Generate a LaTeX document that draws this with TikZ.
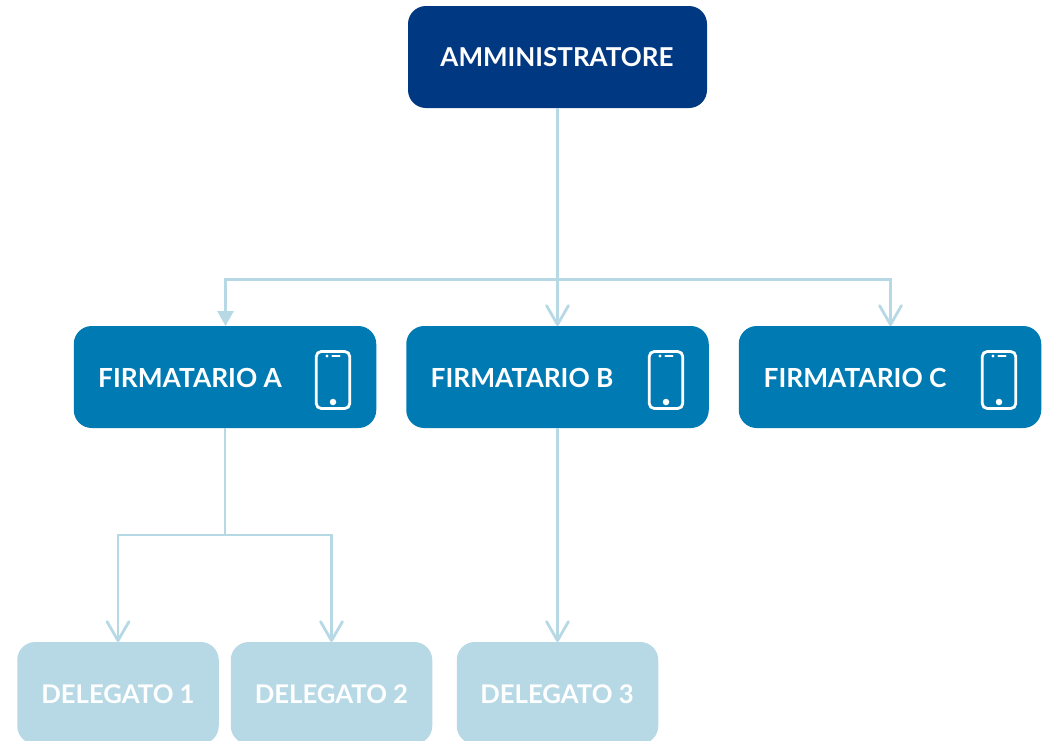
\documentclass[tikz,border=0pt]{standalone}
\usepackage{fontspec}
\setmainfont{Lato}[UprightFont=* Bold]
\usetikzlibrary{arrows.meta}
\definecolor{navy}{HTML}{003882}
\definecolor{midblue}{HTML}{007AB3}
\definecolor{pale}{HTML}{B7D9E5}
\tikzset{
  x=1pt,y=-1pt,
  box/.style={rounded corners=18pt,minimum width=#1,minimum height=102pt,inner sep=0pt,outer sep=0pt},
  admin/.style={box=299pt,fill=navy},
  firm/.style={box=302.5pt,fill=midblue},
  deleg/.style={box=201.5pt,fill=pale},
  boxtext/.style={text=white,inner sep=0pt,font=\fontsize{#1}{30}\selectfont},
  lab/.style={boxtext=26.3,anchor=west},
  link/.style={draw=pale,line width=2.8pt},
  vee/.style={link,-{Straight Barb[length=19pt,width=21pt,line width=2.8pt,angle'=60,round]}},
  solidtip/.style={link,-{Triangle[length=15pt,width=16pt]}},
  phone/.style={draw=white,line width=2.8pt,rounded corners=5pt,minimum width=33.5pt,minimum height=57pt,inner sep=0pt},
  speaker/.style={draw=white,line width=2.4pt,line cap=round},
  dot/.style={circle,fill=white,inner sep=0pt},
}
\newcommand{\phoneicon}[2]{%
  \node[phone] (#1) at (#2,380) {};
  \node[dot,minimum size=6.5pt] (#1h) at ([yshift=-22pt]#1.center) {};
  \node[dot,minimum size=3.2pt] (#1c) at ([xshift=-6pt,yshift=24pt]#1.center) {};
  \coordinate (#1s) at ([xshift=-0.5pt,yshift=24pt]#1.center);
  \coordinate (#1t) at ([xshift=6.5pt,yshift=24pt]#1.center);
  \draw[speaker] (#1s) -- (#1t);
}
\begin{document}
\begin{tikzpicture}
\useasboundingbox (0,0) rectangle (1046,740);
\clip (0,0) rectangle (1046,740);
\node[admin] (adm) at (557.5,57) {};
\node[boxtext=26] (admt) at (557,57) {AMMINISTRATORE};
\node[firm] (fa) at (225,377) {};
\node[firm] (fb) at (557.5,377) {};
\node[firm] (fc) at (890,377) {};
\node[lab] (fat) at (98,378) {FIRMATARIO A};
\node[lab] (fbt) at (430.5,378) {FIRMATARIO B};
\node[lab] (fct) at (763.5,378) {FIRMATARIO C};
\phoneicon{pa}{333}
\phoneicon{pb}{666}
\phoneicon{pc}{999}
\node[deleg] (d1) at (118,693) {};
\node[deleg] (d2) at (331.5,693) {};
\node[deleg] (d3) at (557.5,693) {};
\node[boxtext=25.7] (d1t) at (118,694) {DELEGATO 1};
\node[boxtext=25.7] (d2t) at (331.5,694) {DELEGATO 2};
\node[boxtext=25.7] (d3t) at (557,694) {DELEGATO 3};
\coordinate (j1) at (557.5,279.5);
\coordinate (j1a) at (225.5,279.5);
\coordinate (j1c) at (890.5,279.5);
\coordinate (ja) at (225,535);
\coordinate (ja1) at (118,535);
\coordinate (ja2) at (331.5,535);
\draw[link] (adm.south) -- (j1);
\draw[solidtip] (j1) -- (j1a) -- (j1a |- fa.north);
\draw[vee] (j1) -- (fb.north);
\draw[vee] (j1) -- (j1c) -- (j1c |- fc.north);
\draw[link] (fa.south) -- (ja);
\draw[vee] (ja) -- (ja1) -- (d1.north);
\draw[vee] (ja) -- (ja2) -- (d2.north);
\draw[vee] (fb.south) -- (d3.north);
\end{tikzpicture}
\end{document}
